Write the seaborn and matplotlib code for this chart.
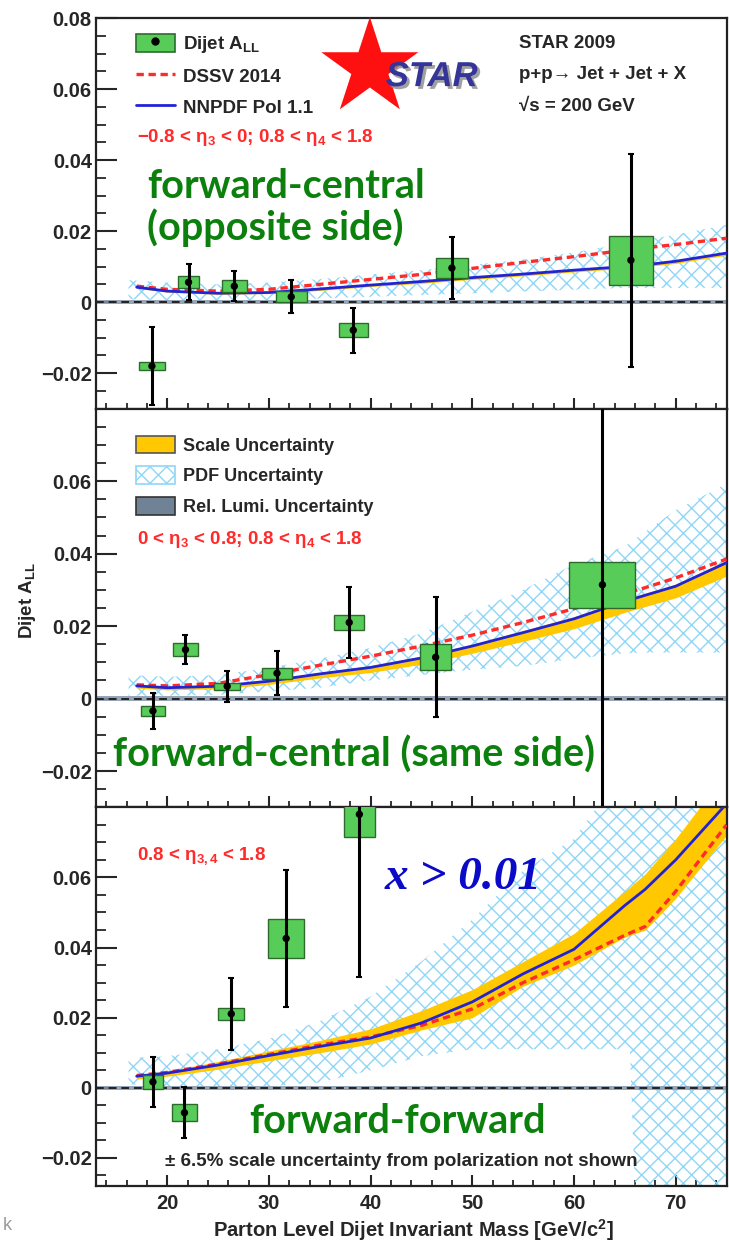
import numpy as np
import pandas as pd
import matplotlib
matplotlib.use("Agg")
import matplotlib.pyplot as plt
import seaborn as sns
from matplotlib.patches import Patch
from matplotlib.lines import Line2D
from matplotlib.ticker import MultipleLocator, FixedLocator, FixedFormatter
import matplotlib.patheffects as pe

# ------------------------------------------------------------------ data
# theory grid (parton-level dijet invariant mass, GeV/c^2)
m_grid = [17, 20, 25, 30, 35, 40, 45, 50, 55, 60, 65, 67, 70, 75]

# --- top panel: forward-central (opposite side)
top_x = [18.5, 22.1, 26.6, 32.2, 38.3, 48.0, 65.6]
top_y = [-0.0180, 0.0056, 0.0045, 0.0015, -0.0079, 0.0096, 0.0118]
top_err = [0.0110, 0.0050, 0.0043, 0.0047, 0.0063, 0.0086, 0.0300]
top_sys = [0.0010, 0.0017, 0.0017, 0.0015, 0.0019, 0.0029, 0.0069]
top_dx = [1.25, 1.0, 1.2, 1.5, 1.45, 1.6, 2.2]
top_dssv = [0.0045, 0.0036, 0.0031, 0.0036, 0.0050, 0.0064, 0.0078, 0.0095, 0.0112, 0.0128, 0.0146, 0.0153, 0.0162, 0.0180]
top_nnpdf = [0.0042, 0.0031, 0.0025, 0.0027, 0.0037, 0.0048, 0.0058, 0.0069, 0.0079, 0.0090, 0.0100, 0.0105, 0.0115, 0.0138]
top_scale_lo = [0.0039, 0.0028, 0.0022, 0.0024, 0.0033, 0.0044, 0.0053, 0.0064, 0.0074, 0.0085, 0.0095, 0.0100, 0.0109, 0.0132]
top_scale_hi = [0.0043, 0.0032, 0.0026, 0.0028, 0.0038, 0.0049, 0.0059, 0.0070, 0.0080, 0.0091, 0.0101, 0.0106, 0.0116, 0.0139]
top_pdf_x = [16.2, 20, 25, 30, 35, 40, 45, 50, 55, 60, 65, 67, 70, 75.5]
top_pdf_lo = [0.0008, 0.0006, 0.0005, 0.0006, 0.0010, 0.0015, 0.0020, 0.0025, 0.0030, 0.0035, 0.0040, 0.0040, 0.0040, 0.0040]
top_pdf_hi = [0.0062, 0.0055, 0.0050, 0.0055, 0.0065, 0.0078, 0.0090, 0.0105, 0.0120, 0.0140, 0.0165, 0.0175, 0.0190, 0.0220]

# --- middle panel: forward-central (same side)
mid_x = [18.6, 21.8, 25.9, 30.8, 37.9, 46.4, 62.8]
mid_y = [-0.0034, 0.0135, 0.0034, 0.0070, 0.0210, 0.0114, 0.0314]
mid_err = [0.0050, 0.0040, 0.0043, 0.0060, 0.0098, 0.0165, 0.2000]
mid_sys = [0.0014, 0.0017, 0.0010, 0.0015, 0.0020, 0.0036, 0.0064]
mid_dx = [1.2, 1.25, 1.25, 1.45, 1.45, 1.55, 3.25]
mid_dssv = [0.0038, 0.0035, 0.0042, 0.0066, 0.0092, 0.0117, 0.0145, 0.0175, 0.0210, 0.0248, 0.0290, 0.0306, 0.0333, 0.0385]
mid_nnpdf = [0.0035, 0.0030, 0.0034, 0.0048, 0.0068, 0.0086, 0.0112, 0.0145, 0.0182, 0.0220, 0.0268, 0.0285, 0.0310, 0.0375]
mid_scale_lo = [0.0029, 0.0024, 0.0027, 0.0039, 0.0057, 0.0072, 0.0095, 0.0125, 0.0158, 0.0193, 0.0238, 0.0254, 0.0278, 0.0338]
mid_scale_hi = [0.0037, 0.0032, 0.0036, 0.0051, 0.0072, 0.0091, 0.0117, 0.0150, 0.0188, 0.0226, 0.0274, 0.0291, 0.0316, 0.0382]
mid_pdf_x = [16.2, 20, 25, 30, 35, 40, 45, 50, 55, 60, 65, 67, 70, 75.5]
mid_pdf_lo = [0.0008, 0.0008, 0.0010, 0.0020, 0.0030, 0.0050, 0.0065, 0.0080, 0.0090, 0.0110, 0.0125, 0.0127, 0.0127, 0.0127]
mid_pdf_hi = [0.0065, 0.0060, 0.0065, 0.0085, 0.0110, 0.0140, 0.0180, 0.0240, 0.0300, 0.0370, 0.0420, 0.0460, 0.0520, 0.0600]

# --- bottom panel: forward-forward
bot_x = [18.6, 21.7, 26.3, 31.7, 38.9]
bot_y = [0.0017, -0.0071, 0.0211, 0.0426, 0.0780]
bot_err = [0.0072, 0.0073, 0.0102, 0.0195, 0.0463]
bot_sys = [0.0019, 0.0025, 0.0017, 0.0056, 0.0066]
bot_dx = [0.95, 1.25, 1.3, 1.8, 1.5]
bot_dssv = [0.0035, 0.0044, 0.0068, 0.0095, 0.0122, 0.0145, 0.0178, 0.0225, 0.0300, 0.0365, 0.0435, 0.0460, 0.0560, 0.0750]
bot_nnpdf = [0.0033, 0.0042, 0.0065, 0.0092, 0.0118, 0.0142, 0.0185, 0.0245, 0.0325, 0.0395, 0.0520, 0.0566, 0.0650, 0.0810]
bot_scale_lo = [0.0025, 0.0033, 0.0053, 0.0077, 0.0100, 0.0125, 0.0165, 0.0200, 0.0290, 0.0350, 0.0430, 0.0450, 0.0540, 0.0720]
bot_scale_hi = [0.0037, 0.0048, 0.0075, 0.0105, 0.0135, 0.0168, 0.0220, 0.0280, 0.0360, 0.0440, 0.0560, 0.0610, 0.0710, 0.0900]
bot_pdf_x = [16.2, 20, 25, 30, 35, 40, 45, 50, 55, 60, 62, 65.5, 66, 75.5]
bot_pdf_lo = [0.0010, 0.0005, 0.0003, 0.0005, 0.0015, 0.0050, 0.0090, 0.0110, 0.0110, 0.0110, 0.0110, 0.0110, -0.0300, -0.0300]
bot_pdf_hi = [0.0085, 0.0090, 0.0110, 0.0140, 0.0190, 0.0260, 0.0360, 0.0480, 0.0620, 0.0710, 0.0790, 0.0900, 0.0900, 0.0900]

rel_lumi_unc = 0.0006

ytick_vals_top = [-0.02, 0.0, 0.02, 0.04, 0.06, 0.08]
ytick_labels_top = ["\u22120.02", "0", "0.02", "0.04", "0.06", "0.08"]
ytick_vals = [-0.02, 0.0, 0.02, 0.04, 0.06]
ytick_labels = ["\u22120.02", "0", "0.02", "0.04", "0.06"]
xtick_vals = [20, 30, 40, 50, 60, 70]
xtick_labels = ["20", "30", "40", "50", "60", "70"]

eta_labels = [
    "\u22120.8 < \u03b7$_{\\mathbf{3}}$ < 0; 0.8 < \u03b7$_{\\mathbf{4}}$ < 1.8",
    "0 < \u03b7$_{\\mathbf{3}}$ < 0.8; 0.8 < \u03b7$_{\\mathbf{4}}$ < 1.8",
    "0.8 < \u03b7$_{\\mathbf{3,4}}$ < 1.8",
]
topology_labels = ["forward-central\n(opposite side)", "forward-central (same side)", "forward-forward"]

# ------------------------------------------------------------------ style
GREEN = "#58cc58"
GREEN_EDGE = "#2d6b2d"
GOLD = "#ffc800"
PDF_COL = "#8fd6f7"
LUMI_COL = "#8596aa"
RED = "#ff2a2a"
BLUE = "#2323d6"
TXT_GREEN = "#0c800c"

sns.set_theme(style="ticks")
plt.rcParams["font.family"] = ["Liberation Sans", "DejaVu Sans"]
plt.rcParams.update({
    "font.weight": "bold",
    "mathtext.fontset": "custom",
    "mathtext.rm": "Liberation Sans",
    "mathtext.bf": "Liberation Sans:bold",
    "mathtext.it": "Liberation Sans:italic:bold",
    "hatch.color": PDF_COL,
    "hatch.linewidth": 1.0,
    "axes.linewidth": 1.6,
    "axes.edgecolor": "#222222",
})

fig = plt.figure(figsize=(7.29, 12.43), dpi=100)
gs = fig.add_gridspec(3, 1, height_ratios=[392, 400, 380], hspace=0,
                      left=96 / 729, right=727 / 729,
                      top=1 - 18 / 1243, bottom=1 - 1186 / 1243)
ax_top = fig.add_subplot(gs[0])
ax_mid = fig.add_subplot(gs[1], sharex=ax_top)
ax_bot = fig.add_subplot(gs[2], sharex=ax_top)


def draw_panel(ax, xs, ys, errs, syss, dxs, dssv, nnpdf, slo, shi, pdf_x, plo, phi):
    xs = np.asarray(xs); ys = np.asarray(ys)
    syss = np.asarray(syss); dxs = np.asarray(dxs)
    ax.fill_between(pdf_x, plo, phi, facecolor="none", edgecolor=PDF_COL,
                    hatch="xx", linewidth=0, zorder=1)
    ax.fill_between(m_grid, slo, shi, color=GOLD, linewidth=0, zorder=2)
    ax.axhspan(-rel_lumi_unc, rel_lumi_unc, color=LUMI_COL, alpha=0.85, lw=0, zorder=2.5)
    ax.axhline(0, color="#222222", lw=1.4, ls=(0, (4, 2.5)), zorder=2.6)
    sns.lineplot(x=m_grid, y=dssv, ax=ax, color=RED, lw=2.4,
                 linestyle=(0, (2.2, 1.4)), zorder=3)
    sns.lineplot(x=m_grid, y=nnpdf, ax=ax, color=BLUE, lw=2.0, zorder=3.5)
    ax.bar(xs, 2 * syss, bottom=ys - syss, width=2 * dxs, color=GREEN,
           edgecolor=GREEN_EDGE, linewidth=1.0, zorder=4)
    ax.errorbar(xs, ys, yerr=errs, fmt="none", ecolor="black", elinewidth=2.2,
                capsize=2.5, capthick=1.5, zorder=5)
    sns.scatterplot(x=xs, y=ys, ax=ax, color="black", s=28, edgecolor="none", zorder=6)


draw_panel(ax_top, top_x, top_y, top_err, top_sys, top_dx, top_dssv, top_nnpdf,
           top_scale_lo, top_scale_hi, top_pdf_x, top_pdf_lo, top_pdf_hi)
draw_panel(ax_mid, mid_x, mid_y, mid_err, mid_sys, mid_dx, mid_dssv, mid_nnpdf,
           mid_scale_lo, mid_scale_hi, mid_pdf_x, mid_pdf_lo, mid_pdf_hi)
draw_panel(ax_bot, bot_x, bot_y, bot_err, bot_sys, bot_dx, bot_dssv, bot_nnpdf,
           bot_scale_lo, bot_scale_hi, bot_pdf_x, bot_pdf_lo, bot_pdf_hi)

ax_top.set_ylim(-0.030, 0.080)
ax_mid.set_ylim(-0.030, 0.080)
ax_bot.set_ylim(-0.028, 0.080)
ax_top.set_xlim(13, 75.05)

for ax, vals, labs in [(ax_top, ytick_vals_top, ytick_labels_top),
                       (ax_mid, ytick_vals, ytick_labels),
                       (ax_bot, ytick_vals, ytick_labels)]:
    ax.yaxis.set_major_locator(FixedLocator(vals))
    ax.yaxis.set_major_formatter(FixedFormatter(labs))
    ax.yaxis.set_minor_locator(MultipleLocator(0.005))
    ax.xaxis.set_major_locator(FixedLocator(xtick_vals))
    ax.xaxis.set_minor_locator(MultipleLocator(2))
    ax.tick_params(axis="y", which="major", direction="in", length=15, width=1.5,
                   labelsize=14.5, pad=3, left=True, right=False)
    ax.tick_params(axis="y", which="minor", direction="in", length=7, width=1.3,
                   left=True, right=False)
    ax.tick_params(axis="x", which="major", direction="in", length=8, width=1.5,
                   labelsize=14.5, pad=6, bottom=True, top=False)
    ax.tick_params(axis="x", which="minor", direction="in", length=4, width=1.3,
                   bottom=True, top=False)
    ax.set_xlabel("")
    ax.set_ylabel("")
    for sp in ax.spines.values():
        sp.set_visible(True)
        sp.set_linewidth(1.6)

ax_bot.xaxis.set_major_formatter(FixedFormatter(xtick_labels))
ax_top.tick_params(axis="x", labelbottom=False)
ax_mid.tick_params(axis="x", labelbottom=False)

ax_bot.set_xlabel("Parton Level Dijet Invariant Mass [GeV/c$^{\\mathbf{2}}$]",
                  fontsize=14.5, fontweight="bold")
ax_bot.xaxis.set_label_coords(0.503, -0.083)
ax_mid.set_ylabel("Dijet A$_{\\mathbf{LL}}$", fontsize=13.5, fontweight="bold")
ax_mid.yaxis.set_label_coords(-0.092, 0.52)

# ---- legends
leg1_handles = [
    (Patch(facecolor=GREEN, edgecolor=GREEN_EDGE, linewidth=1.2),
     Line2D([], [], marker="o", color="black", ls="none", markersize=5)),
    Line2D([], [], color=RED, lw=2.4, ls=(0, (2.2, 1.4))),
    Line2D([], [], color=BLUE, lw=2.0),
]
leg1 = ax_top.legend(leg1_handles, ["Dijet A$_{\\mathbf{LL}}$", "DSSV 2014", "NNPDF Pol 1.1"],
                     loc="upper left", bbox_to_anchor=(0.063, 0.96), frameon=False,
                     borderpad=0, borderaxespad=0, handlelength=2.1, handleheight=1.1,
                     handletextpad=0.4, labelspacing=0.62,
                     prop={"size": 13.5, "weight": "bold"})

leg2_handles = [
    Patch(facecolor=GOLD, edgecolor="#555555", linewidth=1.2),
    Patch(facecolor="white", edgecolor=PDF_COL, hatch="xx", linewidth=1.2),
    Patch(facecolor="#6f8296", edgecolor="#333333", linewidth=1.2),
]
leg2 = ax_mid.legend(leg2_handles, ["Scale Uncertainty", "PDF Uncertainty", "Rel. Lumi. Uncertainty"],
                     loc="upper left", bbox_to_anchor=(0.063, 0.932), frameon=False,
                     borderpad=0, borderaxespad=0, handlelength=2.2, handleheight=1.1,
                     handletextpad=0.4, labelspacing=0.66,
                     prop={"size": 13, "weight": "bold"})

# ---- header text block
for i, t in enumerate(["STAR 2009", "p+p\u2192 Jet + Jet + X", "\u221as = 200 GeV"]):
    ax_top.text(0.671, 0.936 - i * 0.081, t, transform=ax_top.transAxes,
                fontsize=13.5, fontweight="bold", va="center", ha="left")

# STAR logo
ax_top.scatter([0.434], [0.872], transform=ax_top.transAxes, marker="*", s=5400,
               color="#ff1010", edgecolor="none", zorder=7, clip_on=False)
ax_top.text(0.532, 0.85, "STAR", transform=ax_top.transAxes, fontsize=25,
            fontweight="bold", style="italic", color="#343499", ha="center", va="center",
            zorder=8,
            path_effects=[pe.withSimplePatchShadow(offset=(2, -2), shadow_rgbFace="#888888", alpha=0.8)])

# ---- eta ranges
ax_top.text(17.0, 0.0463, eta_labels[0], color=RED, fontsize=13.5, fontweight="bold", va="center")
ax_mid.text(17.0, 0.0438, eta_labels[1], color=RED, fontsize=13.5, fontweight="bold", va="center")
ax_bot.text(17.0, 0.0660, eta_labels[2], color=RED, fontsize=13.5, fontweight="bold", va="center")

# ---- topology labels
green_font = dict(family=["Lato", "DejaVu Sans"], fontweight="bold", fontsize=28.5, color=TXT_GREEN)
ax_top.text(18.0, 0.0266, topology_labels[0], va="center", ha="left", linespacing=1.1,
            zorder=9, **green_font)
ax_mid.text(14.7, -0.0154, topology_labels[1], va="center", ha="left", zorder=9, **green_font)
ax_bot.text(28.1, -0.0097, topology_labels[2], va="center", ha="left", zorder=9, **green_font)

ax_bot.text(41.4, 0.0597, "x > 0.01", family=["Liberation Serif", "DejaVu Serif"],
            style="italic", fontweight="bold", fontsize=34, color="#0a0ac8",
            va="center", ha="left", zorder=9)
ax_bot.text(19.8, -0.0210, "\u00b1 6.5% scale uncertainty from polarization not shown",
            fontsize=13.5, fontweight="bold", va="center", ha="left", zorder=9)

fig.text(0.004, 1 - 1225 / 1243, "k", color="#9a9a9a", fontsize=13, fontweight="normal",
         va="center", ha="left")

fig.savefig("out.png", dpi=100)
